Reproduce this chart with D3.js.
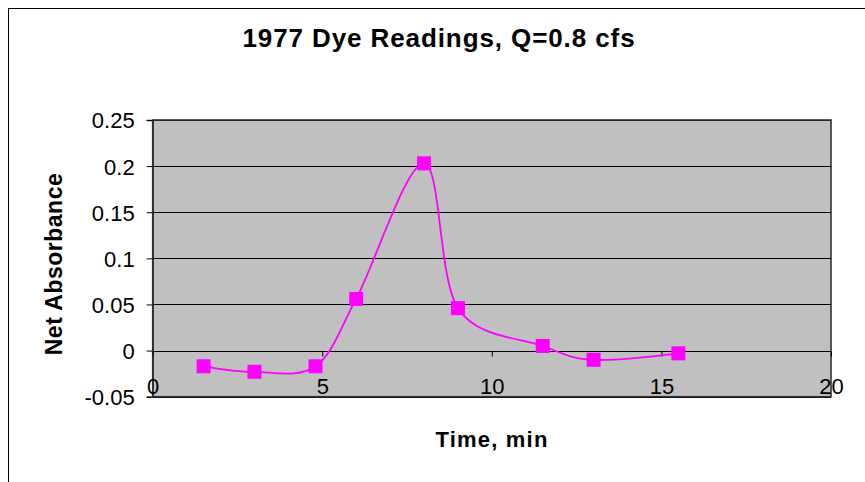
<!DOCTYPE html>
<html>
<head>
<meta charset="utf-8">
<script src="https://cdn.jsdelivr.net/npm/d3@7"></script>
<style>
  html, body { margin: 0; padding: 0; background: #fff; }
  svg { display: block; font-family: Arial, "Liberation Sans", sans-serif; }
</style>
</head>
<body>
<svg id="chart" width="865" height="482"></svg>
<script>
// Dye readings: elapsed time (min) and net absorbance
const times = [1.5, 3, 4.8, 6, 8, 9, 11.5, 13, 15.5];
const absorbance = [-0.017, -0.023, -0.017, 0.056, 0.203, 0.046, 0.005, -0.010, -0.003];

const xTicks = [0, 5, 10, 15, 20];
const yTicks = [-0.05, 0, 0.05, 0.1, 0.15, 0.2, 0.25];
const yTickLabels = ["-0.05", "0", "0.05", "0.1", "0.15", "0.2", "0.25"];

const titleText = "1977 Dye Readings, Q=0.8 cfs";
const xTitle = "Time, min";
const yTitle = "Net Absorbance";

const svg = d3.select("#chart");

const plot = { left: 152.7, right: 831, top: 120, bottom: 396.7 };

const x = d3.scaleLinear().domain([0, 20]).range([plot.left, plot.right]);
const y = d3.scaleLinear().domain([-0.05, 0.25]).range([plot.bottom, plot.top]);

// Chart area frame
svg.append("rect")
  .attr("x", 8.5).attr("y", 8.5)
  .attr("width", 900).attr("height", 600)
  .attr("fill", "#fff").attr("stroke", "#000").attr("stroke-width", 1);

// Plot area background
svg.append("rect")
  .attr("x", plot.left).attr("y", plot.top)
  .attr("width", plot.right - plot.left).attr("height", plot.bottom - plot.top)
  .attr("fill", "#c0c0c0");

// Horizontal gridlines
svg.append("g").selectAll("line")
  .data(yTicks)
  .join("line")
  .attr("x1", plot.left).attr("x2", plot.right)
  .attr("y1", d => Math.round(y(d)) + 0.5).attr("y2", d => Math.round(y(d)) + 0.5)
  .attr("stroke", "#000").attr("stroke-width", 1);

// Plot area border
svg.append("rect")
  .attr("x", plot.left).attr("y", plot.top)
  .attr("width", plot.right - plot.left).attr("height", plot.bottom - plot.top)
  .attr("fill", "none").attr("stroke", "#333").attr("stroke-width", 1.6);

// Y axis
const yAxis = d3.axisLeft(y)
  .tickValues(yTicks)
  .tickFormat((d, i) => yTickLabels[i])
  .tickSize(6)
  .tickPadding(12);
const gy = svg.append("g")
  .attr("transform", `translate(${plot.left},0)`)
  .call(yAxis);
gy.select(".domain").attr("stroke", "#333").attr("stroke-width", 1.6);
gy.selectAll(".tick line").attr("stroke", "#000");
gy.selectAll(".tick text")
  .attr("font-size", 22).attr("font-family", "Arial, 'Liberation Sans', sans-serif")
  .attr("fill", "#000").attr("dy", "0.36em");

// X axis drawn along the zero line
const xAxis = d3.axisBottom(x)
  .tickValues(xTicks)
  .tickFormat(d3.format("d"))
  .tickSize(5)
  .tickPadding(22);
const gx = svg.append("g")
  .attr("transform", `translate(0,${Math.round(y(0)) + 0.5})`)
  .call(xAxis);
gx.select(".domain").remove();
gx.selectAll(".tick line").attr("stroke", "#000");
gx.selectAll(".tick text")
  .attr("font-size", 22).attr("font-family", "Arial, 'Liberation Sans', sans-serif")
  .attr("fill", "#000");

// Smoothed series line
const pts = times.map((t, i) => [t, absorbance[i]]);
const line = d3.line()
  .x(d => x(d[0]))
  .y(d => y(d[1]))
  .curve(d3.curveCatmullRom.alpha(0));
svg.append("path")
  .datum(pts)
  .attr("d", line)
  .attr("fill", "none")
  .attr("stroke", "#ff00ff")
  .attr("stroke-width", 1.8);

// Square markers
const m = 14;
svg.append("g").selectAll("rect")
  .data(pts)
  .join("rect")
  .attr("x", d => x(d[0]) - m / 2)
  .attr("y", d => y(d[1]) - m / 2)
  .attr("width", m).attr("height", m)
  .attr("fill", "#ff00ff");

// Titles
svg.append("text")
  .attr("x", 439).attr("y", 47)
  .attr("text-anchor", "middle")
  .attr("font-size", 26).attr("font-weight", "bold")
  .attr("letter-spacing", "0.9px")
  .text(titleText);

svg.append("text")
  .attr("x", 492).attr("y", 447)
  .attr("text-anchor", "middle")
  .attr("font-size", 22).attr("font-weight", "bold")
  .attr("letter-spacing", "1.2px")
  .text(xTitle);

svg.append("text")
  .attr("transform", "translate(62,264) rotate(-90)")
  .attr("text-anchor", "middle")
  .attr("font-size", 23).attr("font-weight", "bold")
  .attr("letter-spacing", "0.5px")
  .text(yTitle);
</script>
</body>
</html>
